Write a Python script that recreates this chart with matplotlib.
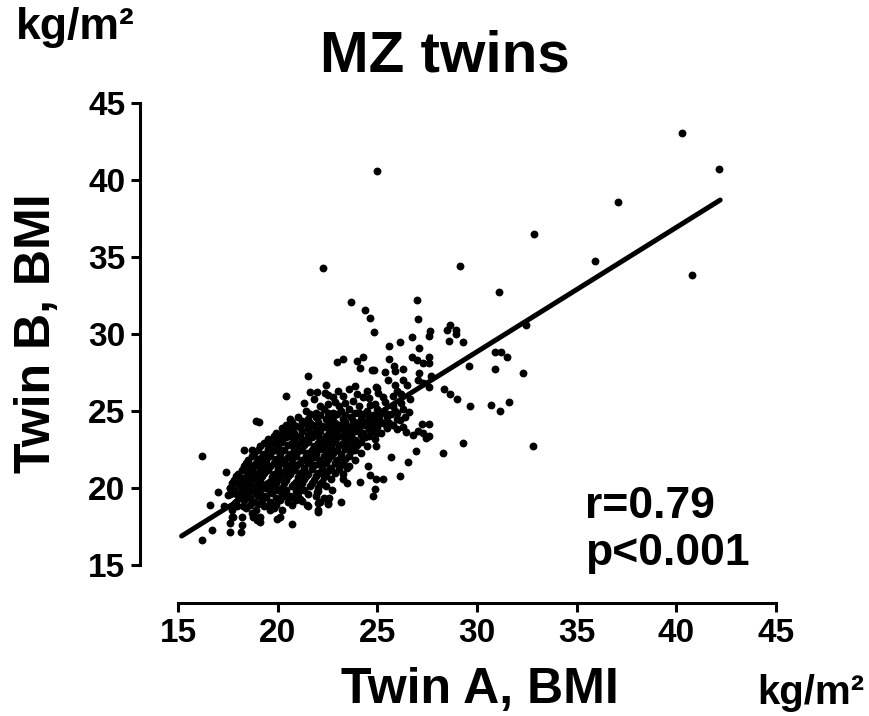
import matplotlib
matplotlib.use("Agg")
import matplotlib.pyplot as plt

# BMI pairs (kg/m2)
outliers = [(40.3, 43.05), (42.16, 40.7), (37.08, 38.6), (32.88, 36.5), (35.9, 34.76),
            (40.8, 33.8), (31.1, 32.7), (32.46, 30.6), (29.3, 29.5), (29.15, 34.4),
            (30.9, 28.8), (31.2, 28.8), (31.5, 28.5), (29.6, 27.9), (30.9, 27.7),
            (32.3, 27.45), (29.65, 25.3), (30.7, 25.4), (31.15, 25.0), (31.6, 25.6),
            (29.3, 22.9), (32.8, 22.7), (25.0, 40.56), (22.28, 34.27)]

upper = [(27.0, 32.2), (27.03, 31.0), (24.65, 31.06), (24.83, 30.1), (28.65, 30.6),
         (28.5, 30.26), (28.95, 30.26), (28.95, 30.0), (27.66, 30.2), (27.58, 29.85),
         (26.74, 29.8), (26.15, 29.5), (28.6, 29.55), (25.6, 29.2), (27.1, 29.07),
         (25.57, 28.4), (26.74, 28.5), (26.98, 28.3), (27.28, 28.1), (27.6, 28.5),
         (27.6, 28.1), (25.85, 27.9), (25.87, 27.6), (26.27, 27.7), (24.83, 27.66),
         (24.72, 27.66), (25.4, 27.55), (27.1, 27.47), (27.7, 27.27), (25.55, 27.0),
         (25.9, 26.7), (26.3, 27.0), (26.5, 26.7), (27.06, 27.0), (27.3, 26.8),
         (27.6, 26.54), (24.93, 26.58), (25.05, 26.15), (25.3, 25.93), (25.4, 25.6),
         (25.8, 25.97), (24.63, 25.4), (26.64, 25.8), (28.35, 26.4), (28.65, 26.1),
         (28.98, 25.8), (23.66, 32.1), (24.4, 31.56), (22.96, 28.2), (23.26, 28.36),
         (24.0, 28.27), (24.27, 28.5), (24.13, 27.8), (21.5, 27.27), (22.4, 26.7),
         (20.42, 26.0), (21.62, 26.25), (21.96, 26.25), (22.38, 26.2), (22.54, 26.04),
         (23.04, 26.3), (23.58, 26.4), (24.0, 26.1), (24.47, 26.3), (24.97, 26.47),
         (21.3, 25.55), (21.8, 25.8), (22.12, 25.3), (22.9, 25.6), (23.1, 25.3),
         (23.4, 25.5), (23.8, 25.67), (24.3, 25.93), (22.5, 25.45), (24.1, 25.35),
         (24.9, 25.45), (25.8, 25.35), (26.2, 25.5), (22.8, 25.9), (23.3, 25.95),
         (24.6, 25.85), (26.2, 26.1), (23.9, 26.6), (26.0, 26.3)]

edge = [(18.9, 24.35), (19.08, 24.3), (16.2, 22.1), (18.3, 22.5), (18.7, 22.5),
        (19.6, 22.95), (19.98, 22.9), (17.4, 21.06), (18.6, 21.5), (19.1, 21.2),
        (19.45, 21.4), (18.2, 20.5), (17.95, 20.3), (17.6, 19.98), (18.5, 20.1),
        (18.1, 19.66), (17.5, 19.55), (17.0, 19.76), (16.6, 18.9), (17.3, 18.8),
        (17.7, 18.6), (17.95, 18.8), (18.2, 18.1), (17.7, 18.1), (18.7, 18.36),
        (19.1, 18.14), (19.6, 18.57), (19.98, 18.0), (17.6, 17.7), (18.2, 17.6),
        (17.6, 17.16), (18.15, 17.16), (16.7, 17.27), (16.2, 16.6), (18.95, 17.9),
        (18.78, 18.1), (20.25, 23.55), (19.87, 21.6), (20.1, 21.8), (24.55, 21.4),
        (24.63, 20.84), (24.93, 20.56), (24.88, 19.94), (24.77, 19.48), (24.13, 20.4),
        (23.46, 20.3), (23.3, 20.6), (23.5, 21.3), (22.0, 19.8), (22.74, 19.9),
        (22.3, 19.33), (23.2, 19.1), (22.54, 18.94), (22.04, 18.57), (22.12, 19.1),
        (21.5, 18.83), (20.7, 18.9), (20.1, 18.14), (20.7, 17.66), (19.8, 18.7),
        (21.1, 19.3), (21.2, 19.15), (25.47, 24.8), (25.97, 24.85), (26.4, 24.63),
        (26.6, 24.95), (25.05, 24.63), (24.8, 24.3), (26.14, 24.4), (27.23, 24.15),
        (27.6, 24.15), (25.5, 23.94), (25.97, 23.83), (26.3, 23.98), (26.44, 23.66),
        (26.8, 23.44), (27.06, 23.72), (27.3, 23.6), (27.44, 23.23), (27.6, 23.38),
        (24.9, 23.66), (24.97, 23.55), (24.93, 22.7), (25.67, 22.03), (26.94, 22.4),
        (26.56, 21.67), (28.3, 22.25), (25.27, 20.56), (26.14, 20.8), (19.28, 21.93),
        (18.86, 21.5), (18.6, 21.17), (19.2, 21.17), (19.5, 21.28), (18.28, 20.63),
        (18.36, 20.08), (17.77, 19.66), (17.86, 19.0), (18.28, 18.8), (17.77, 18.14),
        (18.86, 18.14), (19.1, 17.8), (21.45, 18.9), (22.04, 18.46), (22.04, 19.0),
        (22.54, 19.0), (21.96, 19.76), (22.6, 19.33)]

core = [(21.4, 25.0), (21.9, 24.9), (22.3, 25.1), (22.8, 24.9), (23.2, 25.0), (23.6, 25.1),
        (24.1, 24.9), (24.5, 25.0), (25.0, 25.1), (25.4, 24.9), (25.9, 25.0), (26.3, 25.1),
        (20.6, 24.5), (21.0, 24.6), (21.5, 24.5), (21.9, 24.6), (22.4, 24.5), (22.8, 24.6),
        (23.3, 24.5), (23.7, 24.6), (24.2, 24.5), (24.6, 24.6), (25.1, 24.5), (25.5, 24.6),
        (26.0, 24.5),
        (20.4, 24.1), (20.9, 24.0), (21.3, 24.2), (21.7, 24.1), (22.2, 24.0), (22.6, 24.2),
        (23.1, 24.1), (23.5, 24.0), (24.0, 24.2), (24.4, 24.1), (24.9, 24.0), (25.3, 24.2),
        (25.8, 24.1),
        (19.9, 23.6), (20.4, 23.7), (20.8, 23.6), (21.2, 23.7), (21.7, 23.6), (22.1, 23.7),
        (22.6, 23.6), (23.0, 23.7), (23.5, 23.6), (23.9, 23.7), (24.3, 23.6), (24.8, 23.7),
        (25.2, 23.6),
        (19.5, 23.2), (20.0, 23.1), (20.4, 23.3), (20.8, 23.2), (21.3, 23.1), (21.7, 23.3),
        (22.2, 23.2), (22.6, 23.1), (23.0, 23.3), (23.5, 23.2), (23.9, 23.1), (24.4, 23.3),
        (24.9, 23.2),
        (19.1, 22.7), (19.6, 22.8), (20.0, 22.7), (20.5, 22.8), (20.9, 22.7), (21.3, 22.8),
        (21.8, 22.7), (22.2, 22.8), (22.7, 22.7), (23.1, 22.8), (23.6, 22.7), (24.0, 22.8),
        (24.5, 22.7),
        (18.8, 22.3), (19.3, 22.2), (19.7, 22.4), (20.1, 22.3), (20.6, 22.2), (21.0, 22.4),
        (21.5, 22.3), (21.9, 22.2), (22.4, 22.4), (22.8, 22.3), (23.2, 22.2), (23.7, 22.4),
        (24.2, 22.3),
        (18.5, 21.8), (19.0, 21.9), (19.4, 21.8), (19.9, 21.9), (20.3, 21.8), (20.7, 21.9),
        (21.2, 21.8), (21.6, 21.9), (22.1, 21.8), (22.5, 21.9), (23.0, 21.8), (23.4, 21.9),
        (23.9, 21.8),
        (18.3, 21.4), (18.7, 21.3), (19.2, 21.5), (19.6, 21.4), (20.0, 21.3), (20.5, 21.5),
        (20.9, 21.4), (21.3, 21.3), (21.8, 21.5), (22.2, 21.4), (22.7, 21.3), (23.1, 21.5),
        (23.6, 21.4),
        (18.0, 20.9), (18.5, 21.0), (18.9, 20.9), (19.3, 21.0), (19.8, 20.9), (20.2, 21.0),
        (20.6, 20.9), (21.1, 21.0), (21.5, 20.9), (22.0, 21.0), (22.4, 20.9), (22.9, 21.0),
        (23.3, 20.9),
        (17.8, 20.5), (18.3, 20.4), (18.7, 20.6), (19.1, 20.5), (19.6, 20.4), (20.0, 20.6),
        (20.4, 20.5), (20.9, 20.4), (21.3, 20.6), (21.8, 20.5), (22.2, 20.4), (22.7, 20.6),
        (17.6, 20.0), (18.1, 20.1), (18.5, 20.0), (18.9, 20.1), (19.4, 20.0), (19.8, 20.1),
        (20.2, 20.0), (20.7, 20.1), (21.1, 20.0), (21.6, 20.1), (22.0, 20.0), (22.4, 20.1),
        (17.6, 19.6), (18.0, 19.5), (18.4, 19.7), (18.9, 19.6), (19.3, 19.5), (19.7, 19.7),
        (20.2, 19.6), (20.6, 19.5), (21.0, 19.7), (21.5, 19.6), (21.9, 19.5),
        (17.9, 19.1), (18.3, 19.2), (18.8, 19.1), (19.2, 19.2), (19.6, 19.1), (20.1, 19.2),
        (20.5, 19.1), (20.9, 19.2),
        (18.4, 18.7), (18.9, 18.6), (19.3, 18.8), (19.7, 18.7), (20.2, 18.6)]

# second, staggered layer of the dense centre
core_fill = [(21.6, 24.8), (22.1, 24.75), (22.5, 24.85), (23.0, 24.8), (23.4, 24.75),
             (23.9, 24.85), (24.3, 24.8), (24.8, 24.75), (25.2, 24.85), (25.7, 24.8),
             (20.7, 24.3), (21.2, 24.35), (21.6, 24.25), (22.0, 24.3), (22.5, 24.35),
             (22.9, 24.25), (23.4, 24.3), (23.8, 24.35), (24.2, 24.25), (24.7, 24.3),
             (25.1, 24.35), (25.6, 24.25),
             (20.2, 23.9), (20.6, 23.85), (21.1, 23.95), (21.5, 23.9), (21.9, 23.85),
             (22.4, 23.95), (22.8, 23.9), (23.3, 23.85), (23.7, 23.95), (24.1, 23.9),
             (24.6, 23.85), (25.0, 23.95), (25.5, 23.9),
             (19.8, 23.4), (20.2, 23.45), (20.6, 23.35), (21.1, 23.4), (21.5, 23.45),
             (22.0, 23.35), (22.4, 23.4), (22.8, 23.45), (23.3, 23.35), (23.7, 23.4),
             (24.2, 23.45), (24.6, 23.35),
             (19.3, 22.95), (19.8, 22.9), (20.2, 23.0), (20.7, 22.95), (21.1, 22.9),
             (21.5, 23.0), (22.0, 22.95), (22.4, 22.9), (22.9, 23.0), (23.3, 22.95),
             (23.8, 22.9), (24.2, 23.0),
             (19.0, 22.5), (19.5, 22.55), (19.9, 22.45), (20.3, 22.5), (20.8, 22.55),
             (21.2, 22.45), (21.7, 22.5), (22.1, 22.55), (22.6, 22.45), (23.0, 22.5),
             (23.4, 22.55), (23.9, 22.45),
             (18.7, 22.05), (19.2, 22.0), (19.6, 22.1), (20.1, 22.05), (20.5, 22.0),
             (20.9, 22.1), (21.4, 22.05), (21.8, 22.0), (22.3, 22.1), (22.7, 22.05),
             (23.2, 22.0), (23.6, 22.1),
             (18.4, 21.6), (18.9, 21.65), (19.4, 21.55), (19.8, 21.6), (20.2, 21.65),
             (20.7, 21.55), (21.1, 21.6), (21.5, 21.65), (22.0, 21.55), (22.4, 21.6),
             (22.9, 21.65), (23.3, 21.55),
             (18.2, 21.2), (18.7, 21.15), (19.1, 21.25), (19.5, 21.2), (20.0, 21.15),
             (20.4, 21.25), (20.8, 21.2), (21.3, 21.15), (21.7, 21.25), (22.2, 21.2),
             (22.6, 21.15), (23.1, 21.25),
             (17.9, 20.75), (18.4, 20.7), (18.8, 20.8), (19.2, 20.75), (19.7, 20.7),
             (20.1, 20.8), (20.5, 20.75), (21.0, 20.7), (21.4, 20.8), (21.9, 20.75),
             (22.3, 20.7),
             (17.7, 20.3), (18.2, 20.25), (18.6, 20.35), (19.0, 20.3), (19.5, 20.25),
             (19.9, 20.35), (20.3, 20.3), (20.8, 20.25), (21.2, 20.35), (21.7, 20.3),
             (22.1, 20.25),
             (17.8, 19.85), (18.3, 19.8), (18.7, 19.9), (19.1, 19.85), (19.6, 19.8),
             (20.0, 19.9), (20.4, 19.85), (20.9, 19.8), (21.3, 19.9),
             (18.1, 19.4), (18.6, 19.35), (19.0, 19.45), (19.4, 19.4), (19.9, 19.35),
             (20.3, 19.45), (20.7, 19.4),
             (18.6, 18.9), (19.0, 18.95), (19.5, 18.85), (19.9, 18.9)]

# regression line as drawn (x range and fitted values at its ends)
fit_x = [15.18, 42.2]
fit_y = [16.88, 38.7]

ticks = [15, 20, 25, 30, 35, 40, 45]

plt.rcParams['font.family'] = ['Liberation Sans', 'DejaVu Sans']
plt.rcParams['font.weight'] = 'bold'

fig = plt.figure(figsize=(8.7, 7.16), dpi=100)
ax = fig.add_axes([178 / 870, 151 / 716, 598 / 870, 462 / 716])

pts = outliers + upper + edge + core + core_fill
twin_a = [p[0] for p in pts]
twin_b = [p[1] for p in pts]
ax.scatter(twin_a, twin_b, s=32, color='black', linewidths=0, zorder=3)
ax.plot(fit_x, fit_y, color='black', lw=3.6, solid_capstyle='round', zorder=4)

ax.set_xlim(15, 45)
ax.set_ylim(15, 45)
ax.set_xticks(ticks)
ax.set_yticks(ticks)

for side in ['top', 'right']:
    ax.spines[side].set_visible(False)
for side in ['left', 'bottom']:
    ax.spines[side].set_position(('outward', 27.4))
    ax.spines[side].set_linewidth(2.2)
ax.tick_params(direction='out', length=6.5, width=2.2, labelsize=24, pad=4)

ax.set_xlabel('Twin A, BMI', fontsize=36, fontweight='bold', va='center')
ax.xaxis.set_label_coords(0.505, -0.27)
ax.set_ylabel('Twin B, BMI', fontsize=36, fontweight='bold', va='center')
ax.yaxis.set_label_coords(-0.236, 0.502)

fig.text(445 / 870, 1 - 57 / 716, 'MZ twins', fontsize=42, fontweight='bold',
         ha='center', va='center')
fig.text(75 / 870, 1 - 27 / 716, 'kg/m²', fontsize=32, fontweight='bold',
         ha='center', va='center')
fig.text(811 / 870, 1 - 693 / 716, 'kg/m²', fontsize=29, fontweight='bold',
         ha='center', va='center')

ax.text(35.4, 18.77, 'r=0.79', fontsize=32, fontweight='bold', ha='left', va='center')
ax.text(35.4, 15.75, 'p<0.001', fontsize=32, fontweight='bold', ha='left', va='center',
        clip_on=False)

fig.savefig('out.png', dpi=100)
